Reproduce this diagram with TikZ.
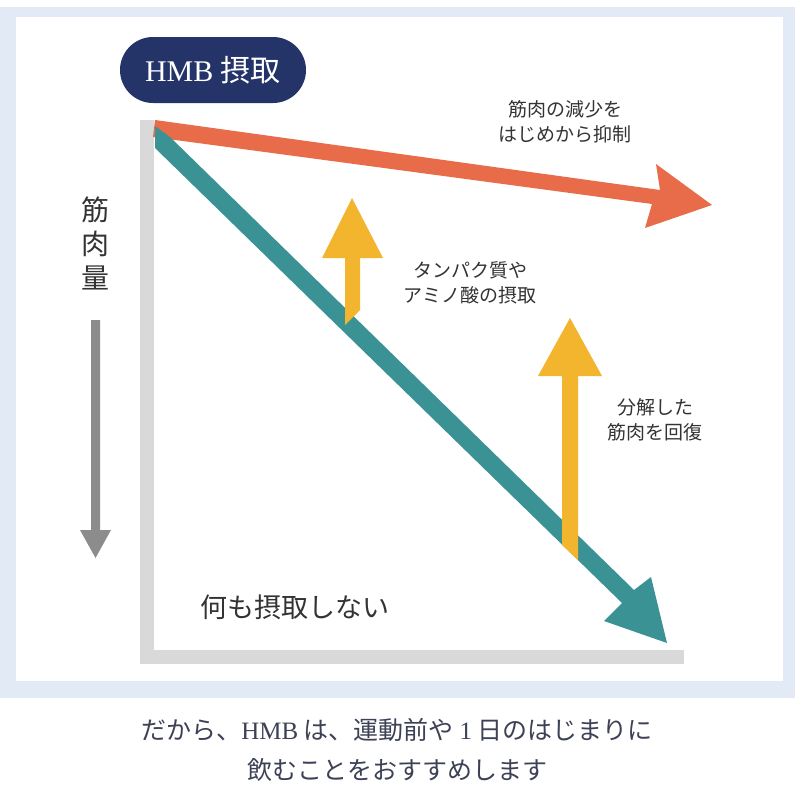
\documentclass[tikz,border=0pt]{standalone}
\usepackage{fontspec}
\setmainfont{Liberation Serif}
\newfontfamily\cjk{Noto Sans CJK JP}
\definecolor{navy}{RGB}{37,52,104}
\definecolor{orng}{RGB}{232,108,74}
\definecolor{tealc}{RGB}{59,146,149}
\definecolor{yelw}{RGB}{242,181,45}
\definecolor{btxt}{RGB}{60,65,85}
\definecolor{bgblue}{RGB}{226,235,245}
\begin{document}
\begin{tikzpicture}[x=1pt,y=-1pt,
  lbl/.style={font=\cjk\fontsize{19}{25}\selectfont, text=black!80, align=center}]
\useasboundingbox (0,0) rectangle (795,795);
\fill[white] (0,0) rectangle (795,795);
\fill[bgblue] (0,7) rectangle (795,698);
\fill[white] (16,17) rectangle (783,681);
% axes
\fill[black!15] (140,120) rectangle (154,664);
\fill[black!15] (140,650) rectangle (684,664);
% pill
\node[fill=navy, rounded corners=33pt, minimum width=186pt, minimum height=66pt, text=white, font=\fontsize{30}{30}\selectfont] (pill) at (213,70) {HMB {\cjk 摂取}};
% orange arrow
\fill[orng] (155,120) -- (660,190) -- (656,164) -- (712,205) -- (645,228) -- (652,204) -- (153,137) -- cycle;
% teal arrow
\fill[tealc] (155,126) -- (170,137) -- (634,590) -- (651,577) -- (667,643) -- (604,621) -- (622,603) -- (155,148) -- cycle;
% yellow arrows
\fill[yelw] (345,325) -- (345,258) -- (322,258) -- (352,198) -- (383,258) -- (360,258) -- (360,310) -- cycle;
\fill[yelw] (562,545) -- (562,376) -- (538,376) -- (570,318) -- (602,376) -- (578,376) -- (578,560) -- cycle;
% gray arrow
\fill[black!45] (91,320) -- (100,320) -- (100,530) -- (111,530) -- (95.5,558) -- (80,530) -- (91,530) -- cycle;
% labels
\node[lbl] (t1) at (565,122) {筋肉の減少を\\はじめから抑制};
\node[lbl] (t2) at (470,283) {タンパク質や\\アミノ酸の摂取};
\node[lbl] (t3) at (655,420) {分解した\\筋肉を回復};
\node[font=\cjk\fontsize{28}{34}\selectfont, text=black!80, align=center] (y) at (95,243) {筋\\肉\\量};
\node[font=\cjk\fontsize{27}{30}\selectfont, text=black!80] (n) at (295,607) {何も摂取しない};
\node[font=\cjk\fontsize{25}{40}\selectfont, text=btxt, align=center] (b) at (397,750) {だから、{\rmfamily HMB} は、運動前や {\rmfamily 1} 日のはじまりに\\飲むことをおすすめします};
\end{tikzpicture}
\end{document}
